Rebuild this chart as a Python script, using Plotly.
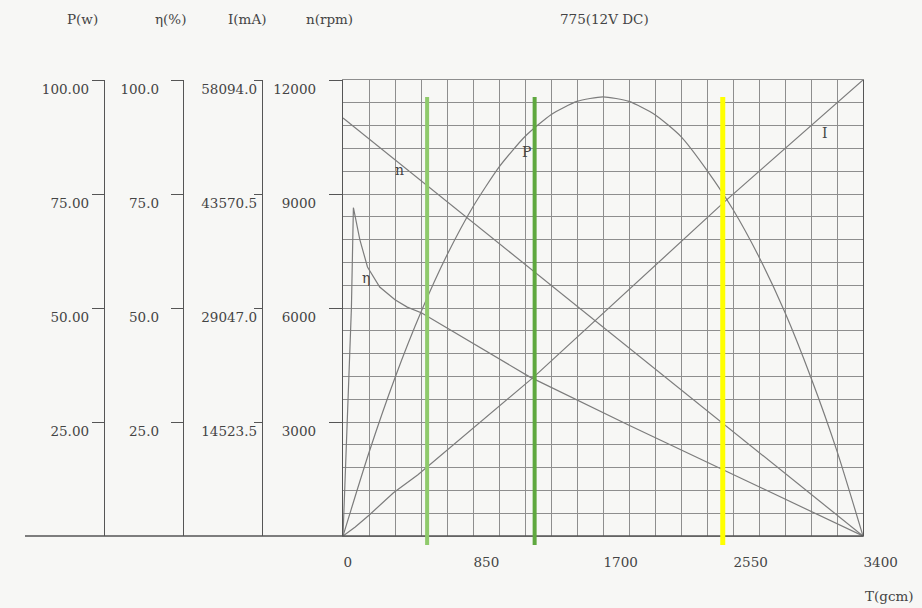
import plotly.graph_objects as go

# ---------------- data ----------------
T_MAX = 3400
T_TICKS = [0, 850, 1700, 2550, 3400]
T_TICK_TEXT = ["0", "850", "1700", "2550", "3400"]
T_GRID_STEP = 170

N_MAX = 12000
N_TICKS = [3000, 6000, 9000, 12000]
N_TICK_TEXT = ["3000", "6000", "9000", "12000"]
N_GRID_STEP = 600

P_MAX = 100
P_TICKS = [25, 50, 75, 100]
P_TICK_TEXT = ["25.00", "50.00", "75.00", "100.00"]

EFF_MAX = 100
EFF_TICKS = [25, 50, 75, 100]
EFF_TICK_TEXT = ["25.0", "50.0", "75.0", "100.0"]

I_MAX = 58094.0
I_TICKS = [14523.5, 29047.0, 43570.5, 58094.0]
I_TICK_TEXT = ["14523.5", "29047.0", "43570.5", "58094.0"]

# speed n (rpm)
speed_T = [0, 3400]
speed_rpm = [11000, 0]

# current I (mA)
current_T = [0, 80, 170, 330, 490, 1250, 2490, 3400]
current_mA = [0, 1150, 2650, 5500, 7800, 20300, 42500, 58094]

# output power P (W)
power_T = [0, 170, 340, 510, 680, 850, 1020, 1190, 1360, 1530, 1700,
           1870, 2040, 2210, 2380, 2550, 2720, 2890, 3060, 3230, 3400]
power_W = [0, 18.3, 34.7, 49.1, 61.6, 72.2, 80.9, 87.6, 92.4, 95.3, 96.3,
           95.3, 92.4, 87.6, 80.2, 71.6, 61.2, 49.0, 34.7, 18.6, 0]

# efficiency eta (%)
eff_T = [0, 55, 68, 90, 110, 160, 240, 340, 420, 515, 850, 1220, 1870, 2490, 3400]
eff_pct = [0, 50, 72, 68, 65, 59, 54.6, 51.8, 50.2, 48.9, 42.2, 34.9, 24.3, 14.5, 0]

# coloured marker lines (torque positions)
marker_T = [550, 1253, 2483]
marker_colors = ["#8fca6b", "#5fa83f", "#ffff00"]
marker_widths = [4, 4, 5]
marker_top_rpm = 11550

# curve name labels
label_text = ["n", "η", "P", "I"]
label_T = [370, 150, 1200, 3150]
label_rpm = [9630, 6800, 10100, 10600]

# ---------------- styling ----------------
W, H = 922, 608
ML, MR, MT, MB = 25, 59, 80, 72
PW = W - ML - MR
PH = H - MT - MB

def px_x(px):
    return (px - ML) / PW

def px_y(py):
    return (H - MB - py) / PH

BG = "#f7f7f5"
GRID = "#8e8e8e"
AXLINE = "#555555"
CURVE = "#7c7c7c"
TXT = "#444444"
FONT = "DejaVu Serif, Liberation Serif, serif"
FS = 13.5

fig = go.Figure()

curve_line = dict(color=CURVE, width=1.2)
fig.add_trace(go.Scatter(x=speed_T, y=speed_rpm, mode="lines", line=curve_line,
                         xaxis="x", yaxis="y", hoverinfo="skip"))
fig.add_trace(go.Scatter(x=power_T, y=power_W, mode="lines",
                         line=dict(color=CURVE, width=1.2, shape="spline", smoothing=0.6),
                         xaxis="x", yaxis="y2", hoverinfo="skip"))
fig.add_trace(go.Scatter(x=eff_T, y=eff_pct, mode="lines", line=curve_line,
                         xaxis="x", yaxis="y3", hoverinfo="skip"))
fig.add_trace(go.Scatter(x=current_T, y=current_mA, mode="lines", line=curve_line,
                         xaxis="x", yaxis="y4", hoverinfo="skip"))

x_start = px_x(343)

def side_axis(pos, rng, vals, text, ticklen, standoff):
    return dict(
        overlaying="y", anchor="free", position=pos, side="left",
        range=rng, tickmode="array", tickvals=vals, ticktext=text,
        ticks="outside", ticklen=ticklen, tickwidth=1.3, tickcolor=AXLINE,
        showline=True, linecolor=AXLINE, linewidth=1.4,
        showgrid=False, zeroline=False,
        tickfont=dict(family=FONT, size=FS, color=TXT),
        ticklabelshift=9, ticklabelstandoff=standoff,
        fixedrange=True,
    )

fig.update_layout(
    width=W, height=H,
    margin=dict(l=ML, r=MR, t=MT, b=MB, pad=0),
    paper_bgcolor=BG, plot_bgcolor=BG,
    showlegend=False,
    xaxis=dict(
        domain=[x_start, 1], range=[0, T_MAX],
        tickmode="array", tickvals=T_TICKS, ticktext=T_TICK_TEXT,
        ticks="", ticklabelposition="outside right", ticklabelstandoff=14,
        tickfont=dict(family=FONT, size=FS, color=TXT),
        showgrid=True, gridcolor=GRID, gridwidth=1,
        minor=dict(tickmode="linear", tick0=0, dtick=T_GRID_STEP,
                   showgrid=True, gridcolor=GRID, gridwidth=1, ticks=""),
        showline=True, mirror=True, linecolor=GRID, linewidth=1,
        zeroline=False, fixedrange=True,
    ),
    yaxis=dict(
        range=[0, N_MAX], tickmode="array", tickvals=N_TICKS, ticktext=N_TICK_TEXT,
        ticks="outside", ticklen=13, tickwidth=1.3, tickcolor=AXLINE,
        tickfont=dict(family=FONT, size=FS, color=TXT),
        ticklabelshift=9, ticklabelstandoff=10,
        showgrid=True, gridcolor=GRID, gridwidth=1,
        minor=dict(tickmode="linear", tick0=0, dtick=N_GRID_STEP,
                   showgrid=True, gridcolor=GRID, gridwidth=1, ticks=""),
        showline=True, mirror=True, linecolor=AXLINE, linewidth=1.4,
        zeroline=False, fixedrange=True,
    ),
    yaxis2=side_axis(px_x(104), [0, P_MAX], P_TICKS, P_TICK_TEXT, 12, 0),
    yaxis3=side_axis(px_x(183), [0, EFF_MAX], EFF_TICKS, EFF_TICK_TEXT, 12, 9),
    yaxis4=side_axis(px_x(262), [0, I_MAX], I_TICKS, I_TICK_TEXT, 8, -6),
)

shapes = []
# long baseline running under all the scales
shapes.append(dict(type="line", xref="paper", yref="paper", x0=0, x1=1, y0=0, y1=0,
                   line=dict(color=AXLINE, width=1.5)))
for t, c, w in zip(marker_T, marker_colors, marker_widths):
    shapes.append(dict(type="line", xref="x domain", yref="y domain",
                       x0=t / T_MAX, x1=t / T_MAX, y0=-0.02, y1=marker_top_rpm / N_MAX,
                       line=dict(color=c, width=w), layer="above"))
fig.update_layout(shapes=shapes)

ann = []
for txt, t, r in zip(label_text, label_T, label_rpm):
    ann.append(dict(x=t, y=r, xref="x", yref="y", text=txt, showarrow=False,
                    font=dict(family=FONT, size=14, color="#444444")))

top_titles = [("P(w)", 82), ("η(%)", 170), ("I(mA)", 247), ("n(rpm)", 329), ("775(12V DC)", 604)]
for txt, cx in top_titles:
    ann.append(dict(x=px_x(cx), y=px_y(19), xref="paper", yref="paper", text=txt,
                    showarrow=False, xanchor="center", yanchor="middle",
                    font=dict(family=FONT, size=FS, color=TXT)))
ann.append(dict(x=px_x(889), y=px_y(596), xref="paper", yref="paper", text="T(gcm)",
                showarrow=False, xanchor="center", yanchor="middle",
                font=dict(family=FONT, size=FS, color=TXT)))
fig.update_layout(annotations=ann)

fig.write_html(
    "out.html",
    config={"displayModeBar": False},
    post_script="document.body.style.margin='0';document.body.style.overflow='hidden';",
)
